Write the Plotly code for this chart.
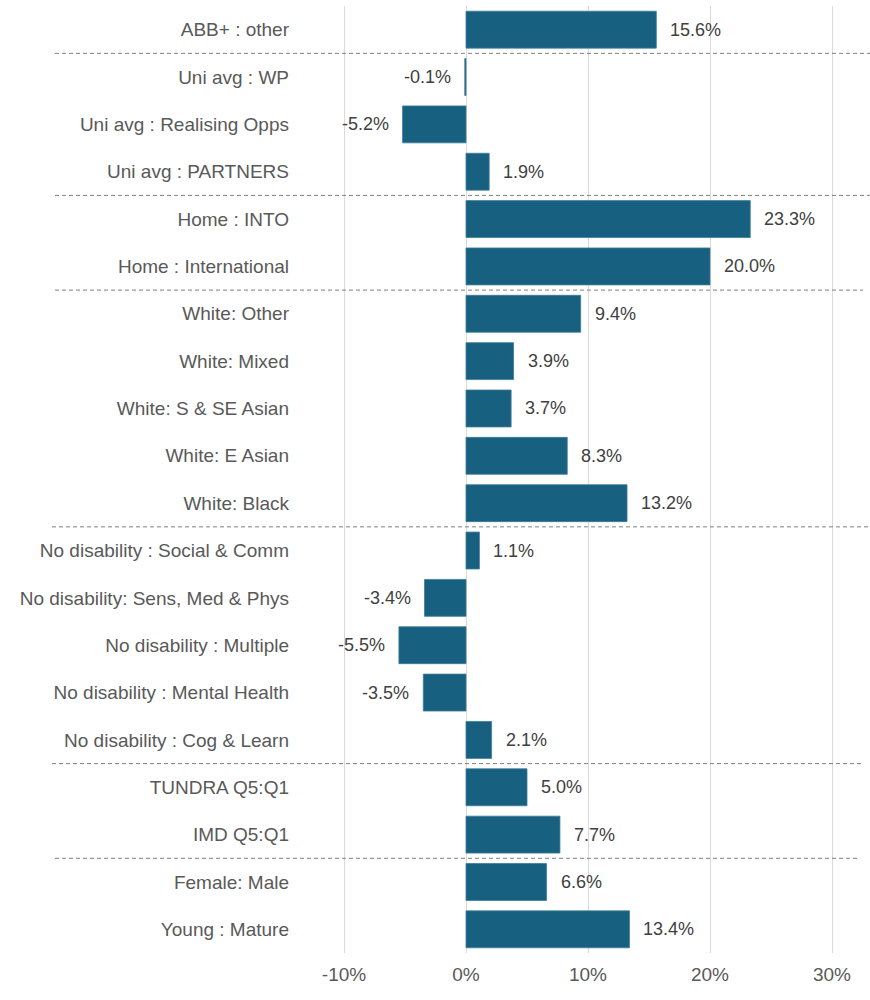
import plotly.graph_objects as go

categories = [
    "ABB+ : other",
    "Uni avg : WP",
    "Uni avg : Realising Opps",
    "Uni avg : PARTNERS",
    "Home : INTO",
    "Home : International",
    "White: Other",
    "White: Mixed",
    "White: S & SE Asian",
    "White: E Asian",
    "White: Black",
    "No disability : Social & Comm",
    "No disability: Sens, Med & Phys",
    "No disability : Multiple",
    "No disability : Mental Health",
    "No disability : Cog & Learn",
    "TUNDRA Q5:Q1",
    "IMD Q5:Q1",
    "Female: Male",
    "Young : Mature",
]
values = [15.6, -0.1, -5.2, 1.9, 23.3, 20.0, 9.4, 3.9, 3.7, 8.3, 13.2,
          1.1, -3.4, -5.5, -3.5, 2.1, 5.0, 7.7, 6.6, 13.4]

# group separators: after these category indices
separators_after = [0, 3, 5, 10, 15, 17]
tick_vals = [-10, 0, 10, 20, 30]
tick_text = ["-10%", "0%", "10%", "20%", "30%"]

BAR = "#18607F"
FONT = "Liberation Sans, Arial, sans-serif"

fig = go.Figure()
fig.add_trace(go.Bar(
    x=values, y=categories, orientation="h",
    marker=dict(color=BAR, line=dict(width=0.8, color="#3E7C99")),
    width=0.78,
    hoverinfo="x+y",
))

for c, v in zip(categories, values):
    fig.add_annotation(
        x=v, y=c, xref="x", yref="y",
        text=f"{v:.1f}%", showarrow=False,
        xanchor="left" if v >= 0 else "right",
        xshift=12 if v >= 0 else -12,
        font=dict(family=FONT, size=18, color="#404040"),
    )

L, R = 300, 860
W = R - L
def px2paper(p):
    return (p - L) / W

sep_extents = [(55, 870), (55, 870), (55, 863), (52, 870), (52, 862), (55, 858)]
for idx, (a, b) in zip(separators_after, sep_extents):
    fig.add_shape(
        type="line", xref="paper", yref="y",
        x0=px2paper(a), x1=px2paper(b), y0=idx + 0.5, y1=idx + 0.5,
        line=dict(color="#808080", width=1, dash="4px,3px"),
        layer="above",
    )

fig.update_layout(
    width=870, height=1000,
    margin=dict(l=L, r=870 - R, t=6, b=47),
    paper_bgcolor="white", plot_bgcolor="white",
    showlegend=False,
    bargap=0.22,
    font=dict(family=FONT, size=18, color="#595959"),
)
fig.update_xaxes(
    range=[(L - 466) / 12.2, (R - 466) / 12.2],
    tickvals=tick_vals, ticktext=tick_text,
    showgrid=True, gridcolor="#D9D9D9", gridwidth=1,
    zeroline=False, showline=False, ticks="", ticklabelstandoff=8,
    tickfont=dict(family=FONT, size=19, color="#595959"),
)
fig.update_yaxes(
    autorange="reversed", showgrid=False, zeroline=False, showline=False,
    ticks="", ticklabelstandoff=10,
    tickfont=dict(family=FONT, size=19, color="#595959"),
)

fig.write_html("out.html")
